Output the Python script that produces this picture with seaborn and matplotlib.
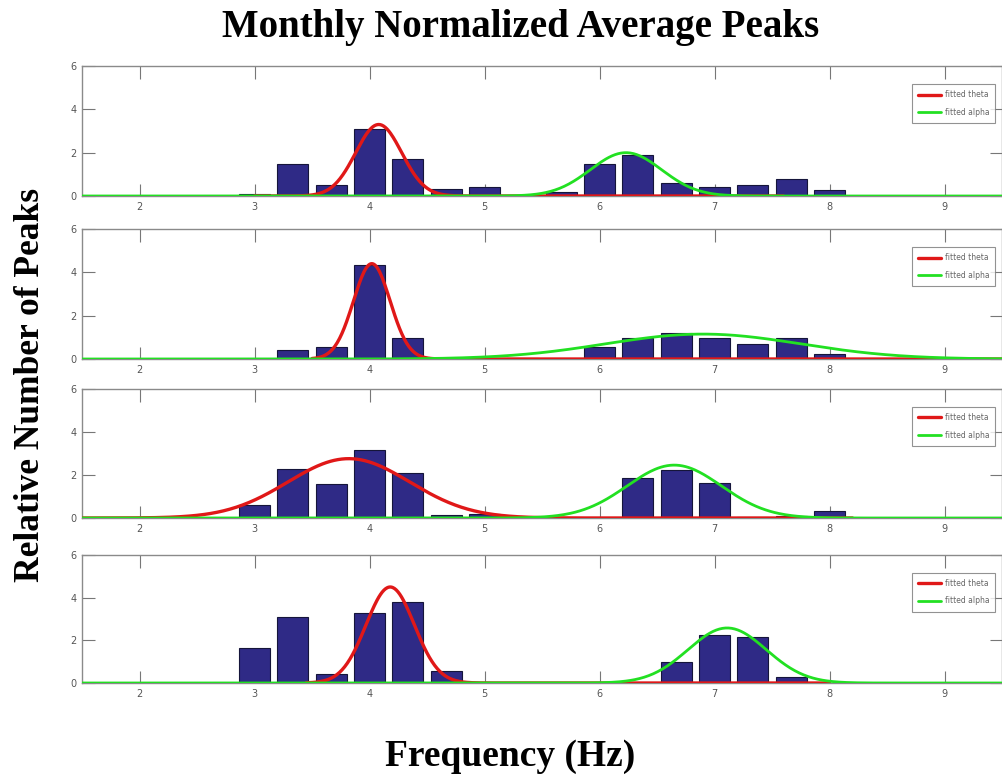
import numpy as np
import pandas as pd
import matplotlib
matplotlib.use("Agg")
import matplotlib.pyplot as plt
import seaborn as sns

# ---------------- data ----------------
FREQ = [3.0, 3.333, 3.667, 4.0, 4.333, 4.667, 5.0, 5.333, 5.667,
        6.0, 6.333, 6.667, 7.0, 7.333, 7.667, 8.0]

MONTH1 = [0.10, 1.47, 0.51, 3.07, 1.69, 0.31, 0.42, 0.05, 0.18,
          1.50, 1.90, 0.62, 0.42, 0.51, 0.79, 0.30]
MONTH2 = [0.00, 0.40, 0.57, 4.33, 0.99, 0.00, 0.02, 0.05, 0.02,
          0.57, 0.99, 1.22, 0.95, 0.68, 0.99, 0.25]
MONTH3 = [0.59, 2.29, 1.60, 3.15, 2.08, 0.15, 0.20, 0.00, 0.00,
          0.00, 1.88, 2.22, 1.64, 0.05, 0.10, 0.33]
MONTH4 = [1.62, 3.08, 0.44, 3.27, 3.79, 0.57, 0.00, 0.00, 0.00,
          0.00, 0.00, 0.99, 2.26, 2.17, 0.28, 0.00]

# fitted gaussian parameters (amplitude, centre, sigma)
THETA_AMP = [3.30, 4.40, 2.76, 4.50]
THETA_MU = [4.08, 4.02, 3.82, 4.18]
THETA_SIG = [0.20, 0.16, 0.53, 0.21]
THETA_RANGE = [(3.0, 7.6), (3.5, 9.5), (1.5, 8.2), (3.45, 8.0)]

ALPHA_AMP = [2.00, 1.15, 2.46, 2.58]
ALPHA_MU = [6.23, 6.90, 6.65, 7.11]
ALPHA_SIG = [0.31, 0.85, 0.41, 0.34]

X_TICKS = [2, 3, 4, 5, 6, 7, 8, 9]
Y_TICKS = [0, 2, 4, 6]

TITLE = "Monthly Normalized Average Peaks"
XLABEL = "Frequency (Hz)"
YLABEL = "Relative Number of Peaks"
LEG_THETA = "fitted theta"
LEG_ALPHA = "fitted alpha"

# ---------------- style ----------------
sns.set_style("white")
plt.rcParams["font.family"] = ["DejaVu Sans"]

BAR_COLOR = "#2f2a86"
RED = "#e01818"
GREEN = "#22e022"

fig = plt.figure(figsize=(10.02, 7.76), dpi=100)

W, H = 1002, 776
left = 82 / W
width = 1 - left
panels_px = [(66, 196), (229, 359), (389, 518), (555, 683)]
months = [MONTH1, MONTH2, MONTH3, MONTH4]

xmin, xmax = 1.5, 9.5

for i, (top, bot) in enumerate(panels_px):
    ax = fig.add_axes([left, 1 - bot / H, width, (bot - top) / H])
    df = pd.DataFrame({"freq": FREQ, "val": months[i]})
    sns.barplot(data=df, x="freq", y="val", native_scale=True, color=BAR_COLOR,
                saturation=1, width=0.8, edgecolor="#15153a", linewidth=0.8,
                ax=ax, zorder=2)

    # green alpha fit over full range
    xg = np.linspace(xmin, xmax, 600)
    yg = ALPHA_AMP[i] * np.exp(-0.5 * ((xg - ALPHA_MU[i]) / ALPHA_SIG[i]) ** 2)
    # red theta fit over its range
    lo, hi = THETA_RANGE[i]
    xr = np.linspace(lo, hi, 600)
    yr = THETA_AMP[i] * np.exp(-0.5 * ((xr - THETA_MU[i]) / THETA_SIG[i]) ** 2)

    sns.lineplot(x=xr, y=yr, color=RED, linewidth=2.4, ax=ax, label=LEG_THETA,
                 sort=False, zorder=4)
    sns.lineplot(x=xg, y=yg, color=GREEN, linewidth=2.0, ax=ax, label=LEG_ALPHA,
                 sort=False, zorder=5)

    ax.set_xlim(xmin, xmax)
    ax.set_ylim(0, 6)
    ax.set_xticks(X_TICKS)
    ax.set_yticks(Y_TICKS)
    ax.set_xlabel("")
    ax.set_ylabel("")
    ax.tick_params(direction="in", length=9, width=0.8, colors="#777777",
                   labelcolor="#555555", labelsize=7, top=True, right=True,
                   bottom=True, left=True, pad=4)
    for s in ax.spines.values():
        s.set_color("#8a8a8a")
        s.set_linewidth(1.0)

    leg = ax.legend(loc="upper right", bbox_to_anchor=(0.997, 0.89), fontsize=5.5,
                    frameon=True, fancybox=False, handlelength=3.0,
                    borderpad=0.8, labelspacing=1.1, handletextpad=0.5)
    leg.get_frame().set_edgecolor("#777777")
    leg.get_frame().set_linewidth(0.8)
    for t in leg.get_texts():
        t.set_color("#666666")

serif = ["Liberation Serif", "DejaVu Serif"]
fig.text(521 / W, 1 - 27 / H, TITLE, ha="center", va="center", color="black",
         fontsize=28, fontweight="bold", family=serif)
fig.text(510 / W, 1 - 756 / H, XLABEL, ha="center", va="center", color="black",
         fontsize=27, fontweight="bold", family=serif)
fig.text(31 / W, 1 - 385 / H, YLABEL, ha="center", va="center", rotation=90,
         color="black", fontsize=25.5, fontweight="bold", family=serif)

fig.savefig("out.png", dpi=100)
